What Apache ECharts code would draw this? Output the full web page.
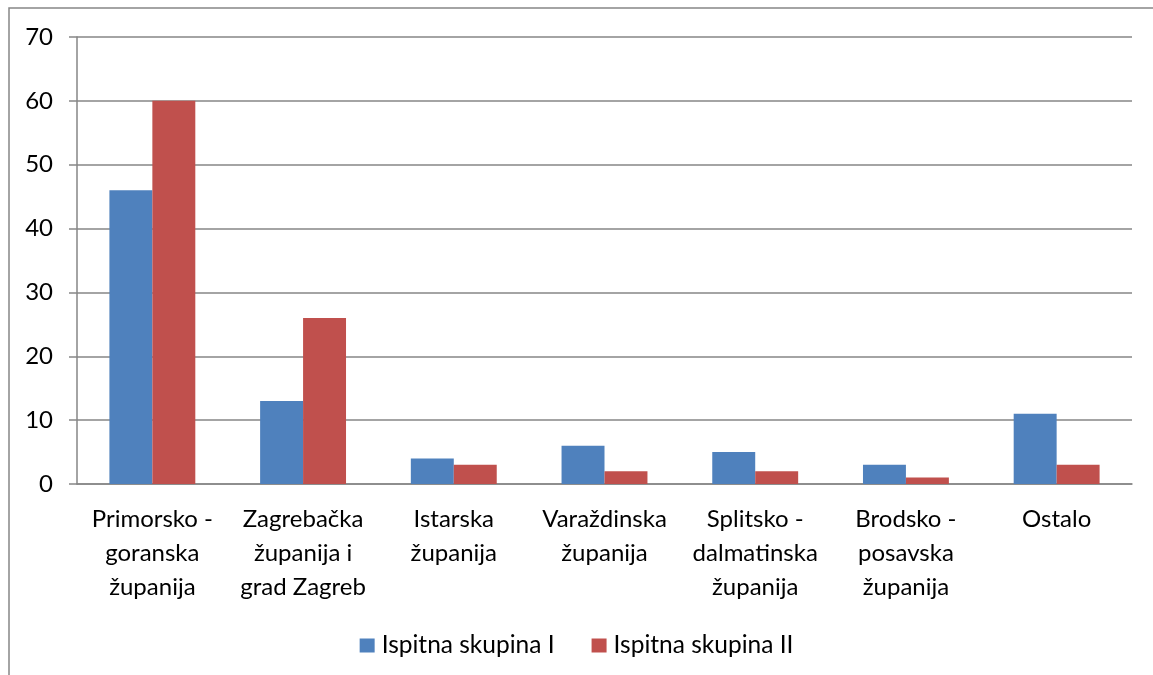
<!DOCTYPE html>
<html>
<head>
<meta charset="utf-8">
<script src="https://cdn.jsdelivr.net/npm/echarts@6/dist/echarts.min.js"></script>
<style>
  html, body { margin: 0; padding: 0; background: #fff; }
  #chart { width: 1153px; height: 675px; }
</style>
</head>
<body>
<div id="chart"></div>
<script>
// podaci
var categories = [
  'Primorsko -\ngoranska\nžupanija',
  'Zagrebačka\nžupanija i\ngrad Zagreb',
  'Istarska\nžupanija',
  'Varaždinska\nžupanija',
  'Splitsko -\ndalmatinska\nžupanija',
  'Brodsko -\nposavska\nžupanija',
  'Ostalo'
];
var seriesNames = ['Ispitna skupina I', 'Ispitna skupina II'];
var skupinaI = [46, 13, 4, 6, 5, 3, 11];
var skupinaII = [60, 26, 3, 2, 2, 1, 3];

var font = 'Lato, "Open Sans", sans-serif';
var chart = echarts.init(document.getElementById('chart'));
chart.setOption({
  animation: false,
  color: ['#4F81BD', '#C0504D'],
  graphic: [{
    type: 'rect',
    shape: { x: 9, y: 8, width: 1200, height: 700 },
    style: { fill: 'none', stroke: '#868686', lineWidth: 1.5 },
    silent: true
  }],
  grid: { left: 77, right: 21, top: 37, bottom: 191 },
  legend: {
    top: 628,
    left: 'center',
    itemWidth: 15,
    itemHeight: 14,
    itemGap: 37,
    icon: 'rect',
    textStyle: { fontFamily: font, fontSize: 24.5, color: '#000', padding: [0, 0, 0, 2] },
    data: seriesNames
  },
  xAxis: {
    type: 'category',
    data: categories,
    axisLine: { lineStyle: { color: '#868686', width: 1.5 } },
    axisTick: { length: 7, lineStyle: { color: '#868686', width: 1.5 } },
    axisLabel: {
      interval: 0, margin: 18, color: '#000', fontFamily: font, fontSize: 24,
      lineHeight: 34
    }
  },
  yAxis: {
    type: 'value',
    min: 0, max: 70, interval: 10,
    axisLine: { show: true, lineStyle: { color: '#868686', width: 1.5 } },
    axisTick: { show: true, length: 8, lineStyle: { color: '#868686', width: 1.5 } },
    splitLine: { lineStyle: { color: '#868686', width: 1.5 } },
    axisLabel: { margin: 24, color: '#000', fontFamily: font, fontSize: 24 }
  },
  series: [
    { name: seriesNames[0], type: 'bar', data: skupinaI, barGap: '0%', barCategoryGap: '43%' },
    { name: seriesNames[1], type: 'bar', data: skupinaII, barGap: '0%', barCategoryGap: '43%' }
  ]
});
</script>
</body>
</html>
